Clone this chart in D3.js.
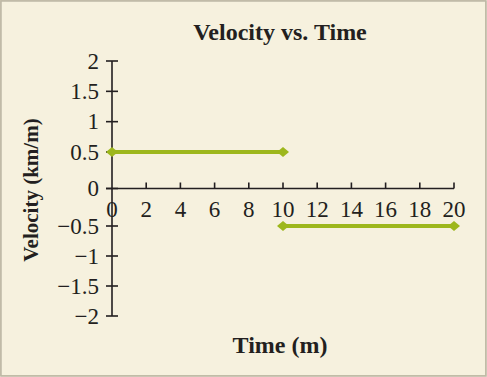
<!DOCTYPE html>
<html><head><meta charset="utf-8">
<script src="https://cdn.jsdelivr.net/npm/d3@7"></script>
<style>
html,body{margin:0;padding:0;background:#f6f1de;}
svg{display:block;}
</style></head>
<body>
<svg id="chart" width="487" height="377"></svg>
<script>
const title = "Velocity vs. Time";
const xLabel = "Time (m)";
const yLabel = "Velocity (km/m)";
const xTicks = [0, 2, 4, 6, 8, 10, 12, 14, 16, 18, 20];
const yTicks = [-2, -1.5, -1, -0.5, 0, 0.5, 1, 1.5, 2];
const segment1Time = [0, 10];
const segment1Velocity = [0.5, 0.5];
const segment2Time = [10, 20];
const segment2Velocity = [-0.5, -0.5];

const svg = d3.select("#chart");
const W = 487, H = 377;
const lineColor = "#9db71c";
const font = "'Liberation Serif', 'DejaVu Serif', serif";
const ink = "#231f20";

svg.append("rect").attr("x", 0.5).attr("y", 0.5).attr("width", W - 2).attr("height", H - 2)
  .attr("fill", "#f6f1de").attr("stroke", "#cfc7ad").attr("stroke-width", 1);
svg.append("rect").attr("x", 1).attr("y", 1).attr("width", W - 2).attr("height", H - 2)
  .attr("fill", "none").attr("stroke", "#bdb8a6").attr("stroke-width", 1.5);

const x = d3.scaleLinear().domain([0, 20]).range([112, 454]);
// the original's value axis has a slightly wider gap around zero
const y = d3.scaleLinear().domain([-2, -0.5, 0, 0.5, 2]).range([316, 226, 188.5, 152, 61]);

const g = svg.append("g").attr("stroke", ink).attr("stroke-width", 1.6);
g.append("line").attr("x1", x(0)).attr("x2", x(0)).attr("y1", y(2)).attr("y2", y(-2));
g.append("line").attr("x1", x(0) - 6).attr("x2", x(20)).attr("y1", y(0)).attr("y2", y(0));
g.selectAll(".yt").data(yTicks).enter().append("line")
  .attr("x1", x(0) - 6).attr("x2", x(0) + 6).attr("y1", d => y(d)).attr("y2", d => y(d));
g.selectAll(".xt").data(xTicks.filter(d => d !== 0)).enter().append("line")
  .attr("x1", d => x(d)).attr("x2", d => x(d)).attr("y1", y(0)).attr("y2", y(0) - 6);

const fmt = d => (d < 0 ? "\u2212" + Math.abs(d) : String(d));
svg.selectAll(".yl").data(yTicks).enter().append("text")
  .attr("x", 99).attr("y", d => y(d) + 7.5)
  .attr("text-anchor", "end").attr("font-family", font).attr("font-size", 23)
  .attr("fill", ink).text(fmt);
svg.selectAll(".xl").data(xTicks).enter().append("text")
  .attr("x", d => x(d)).attr("y", 217)
  .attr("text-anchor", "middle").attr("font-family", font).attr("font-size", 23)
  .attr("fill", ink).text(fmt);

svg.append("text").attr("x", 280).attr("y", 40).attr("text-anchor", "middle")
  .attr("font-family", font).attr("font-weight", "bold").attr("font-size", 24)
  .attr("fill", ink).text(title);
svg.append("text").attr("x", 280).attr("y", 353).attr("text-anchor", "middle")
  .attr("font-family", font).attr("font-weight", "bold").attr("font-size", 24)
  .attr("fill", ink).text(xLabel);
svg.append("text").attr("transform", "translate(38,190) rotate(-90)").attr("text-anchor", "middle")
  .attr("font-family", font).attr("font-weight", "bold").attr("font-size", 21)
  .attr("fill", ink).text(yLabel);

const segments = [
  segment1Time.map((t, i) => [t, segment1Velocity[i]]),
  segment2Time.map((t, i) => [t, segment2Velocity[i]])
];
const line = d3.line().x(d => x(d[0])).y(d => y(d[1]));
segments.forEach(seg => {
  svg.append("path").attr("d", line(seg)).attr("fill", "none")
    .attr("stroke", lineColor).attr("stroke-width", 4);
  svg.selectAll(null).data(seg).enter().append("path")
    .attr("d", "M-6,0L0,-5L6,0L0,5Z")
    .attr("transform", d => `translate(${x(d[0])},${y(d[1])})`)
    .attr("fill", lineColor);
});
</script>
</body></html>
